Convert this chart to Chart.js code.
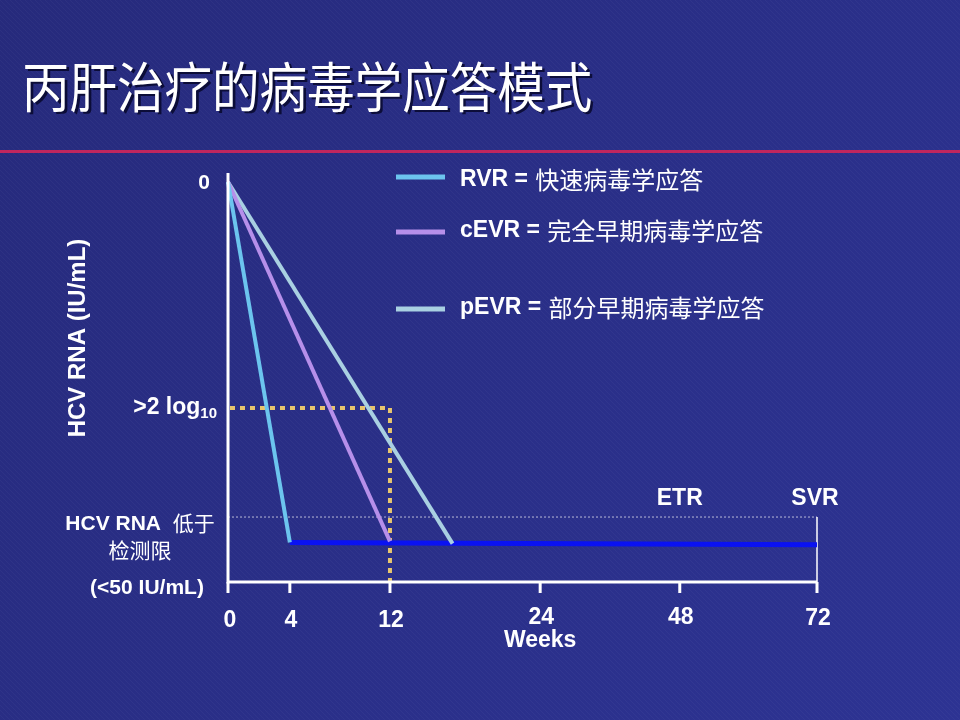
<!DOCTYPE html>
<html>
<head>
<meta charset="utf-8">
<script src="https://cdn.jsdelivr.net/npm/chart.js@4.4.0/dist/chart.umd.min.js"></script>
<style>
  html, body { margin: 0; padding: 0; background: #282d84; }
  #wrap { width: 960px; height: 720px; position: relative; }
</style>
</head>
<body>
<div id="wrap"><canvas id="hcvChart"></canvas></div>
<script>
// weeks shown on the x axis (the axis is not linear in weeks)
const WEEK_TICKS = [0, 4, 12, 24, 48, 72];
const WEEK_LABELS = ['0', '4', '12', '24', '48', '72'];
// where each week tick sits along the axis, 0..100
const AXIS_POS = [0, 10.5, 27.5, 53, 76.7, 100];

// log10 decline of HCV RNA from baseline
const rvrWeeks = [0, 4];
const rvrDecline = [0, 3.19];
const cevrWeeks = [0, 12];
const cevrDecline = [0, 3.18];
const pevrWeeks = [0, 17];
const pevrDecline = [0, 3.2];
const undetWeeks = [4, 72];
const undetDecline = [3.19, 3.21];

const TWO_LOG = 2;          // >2 log10 drop
const DETECT_LIMIT = 2.965; // below detection limit
const Y_MAX = 3.54;

const legendNames = ['RVR', 'cEVR', 'pEVR'];
const legendTexts = ['快速病毒学应答', '完全早期病毒学应答', '部分早期病毒学应答'];

const LATIN = '"Liberation Sans", Arial, "Noto Sans CJK SC", sans-serif';
const CJK = '"Noto Sans CJK SC", "Liberation Sans", sans-serif';

// Map a week value onto the piecewise axis
function weekToAxis(w) {
    for (let i = 1; i < WEEK_TICKS.length; i++) {
        if (w <= WEEK_TICKS[i]) {
            const t = (w - WEEK_TICKS[i - 1]) / (WEEK_TICKS[i] - WEEK_TICKS[i - 1]);
            return AXIS_POS[i - 1] + t * (AXIS_POS[i] - AXIS_POS[i - 1]);
        }
    }
    return AXIS_POS[AXIS_POS.length - 1];
}

function toPoints(weeks, values) {
    return weeks.map((w, i) => ({ x: weekToAxis(w), y: values[i] }));
}

// Background, title and red rule
const backgroundPlugin = {
    id: 'slideBackground',
    beforeDraw(chart) {
        const ctx = chart.ctx;
        const w = chart.width, h = chart.height;
        ctx.save();
        const g = ctx.createLinearGradient(0, 0, w, h);
        g.addColorStop(0, '#262a7c');
        g.addColorStop(1, '#2d3393');
        ctx.fillStyle = g;
        ctx.fillRect(0, 0, w, h);

        // faint diagonal texture
        ctx.strokeStyle = 'rgba(255,255,255,0.035)';
        ctx.lineWidth = 1;
        for (let x = -h; x < w; x += 5) {
            ctx.beginPath();
            ctx.moveTo(x, 0);
            ctx.lineTo(x + h, h);
            ctx.stroke();
        }

        // title, a little condensed
        const title = '丙肝治疗的病毒学应答模式';
        ctx.font = '400 54px ' + CJK;
        ctx.textBaseline = 'middle';
        ctx.textAlign = 'left';
        ctx.save();
        ctx.translate(22, 87);
        ctx.scale(0.88, 1);
        ctx.fillStyle = 'rgba(0,0,25,0.7)';
        ctx.fillText(title, 3, 2);
        ctx.fillStyle = '#ffffff';
        ctx.fillText(title, 0, 0);
        ctx.restore();

        // red rule under the title
        ctx.fillStyle = '#c0265e';
        ctx.fillRect(0, 150, w, 3);
        ctx.restore();
    }
};

// Reference lines behind the curves
const guidesPlugin = {
    id: 'guides',
    beforeDatasetsDraw(chart) {
        const ctx = chart.ctx;
        const xs = chart.scales.x, ys = chart.scales.y;
        const x0 = xs.getPixelForValue(0);
        const x12 = xs.getPixelForValue(weekToAxis(12));
        const x72 = xs.getPixelForValue(weekToAxis(72));
        const yTwo = ys.getPixelForValue(TWO_LOG);
        const yDet = ys.getPixelForValue(DETECT_LIMIT);
        const yBot = ys.getPixelForValue(Y_MAX);
        ctx.save();

        // detection limit dotted line
        ctx.strokeStyle = 'rgba(220,220,235,0.8)';
        ctx.lineWidth = 1;
        ctx.setLineDash([2, 2]);
        ctx.beginPath();
        ctx.moveTo(x0, yDet);
        ctx.lineTo(x72, yDet);
        ctx.stroke();

        // SVR marker line
        ctx.setLineDash([]);
        ctx.strokeStyle = '#ffffff';
        ctx.lineWidth = 1.5;
        ctx.beginPath();
        ctx.moveTo(x72, yDet);
        ctx.lineTo(x72, yBot);
        ctx.stroke();

        // yellow dotted >2 log at week 12
        ctx.strokeStyle = '#e7c56e';
        ctx.lineWidth = 4;
        ctx.setLineDash([5, 5]);
        ctx.beginPath();
        ctx.moveTo(x0 + 2, yTwo);
        ctx.lineTo(x12, yTwo);
        ctx.lineTo(x12, yBot);
        ctx.stroke();
        ctx.restore();
    }
};

// Axes, tick labels, legend and annotations
const axesPlugin = {
    id: 'axesAndText',
    afterDraw(chart) {
        const ctx = chart.ctx;
        const xs = chart.scales.x, ys = chart.scales.y;
        const area = chart.chartArea;
        const x0 = xs.getPixelForValue(0);
        const yBot = ys.getPixelForValue(Y_MAX);
        ctx.save();

        // axis lines
        ctx.strokeStyle = '#ffffff';
        ctx.lineWidth = 3;
        ctx.beginPath();
        ctx.moveTo(x0, area.top - 9);
        ctx.lineTo(x0, yBot);
        ctx.lineTo(xs.getPixelForValue(100), yBot);
        ctx.stroke();

        // x ticks and labels
        ctx.fillStyle = '#ffffff';
        ctx.font = 'bold 23px ' + LATIN;
        ctx.textAlign = 'center';
        ctx.textBaseline = 'middle';
        const labelY = [621, 621, 621, 618, 618, 619];
        WEEK_TICKS.forEach((wk, i) => {
            const px = xs.getPixelForValue(weekToAxis(wk));
            ctx.beginPath();
            ctx.moveTo(px, yBot);
            ctx.lineTo(px, yBot + 11);
            ctx.stroke();
            ctx.fillText(WEEK_LABELS[i], px + (i === 0 ? 2 : 1), labelY[i]);
        });
        ctx.fillText('Weeks', xs.getPixelForValue(weekToAxis(24)), 641);

        // y labels
        ctx.font = 'bold 21px ' + LATIN;
        ctx.textAlign = 'center';
        ctx.fillText('0', x0 - 24, ys.getPixelForValue(0) + 1);
        const yTwo = ys.getPixelForValue(TWO_LOG);
        ctx.textAlign = 'right';
        ctx.font = 'bold 15px ' + LATIN;
        const subW = ctx.measureText('10').width;
        ctx.fillText('10', x0 - 11, yTwo + 6);
        ctx.font = 'bold 23px ' + LATIN;
        ctx.fillText('>2 log', x0 - 11 - subW, yTwo);

        ctx.font = 'bold 21px ' + LATIN;
        const hcvW = ctx.measureText('HCV RNA  ').width;
        ctx.font = '21px ' + CJK;
        const cjkW = ctx.measureText('低于').width;
        const startX = 140 - (hcvW + cjkW) / 2;
        ctx.textAlign = 'left';
        ctx.font = 'bold 21px ' + LATIN;
        ctx.fillText('HCV RNA  ', startX, 524);
        ctx.font = '21px ' + CJK;
        ctx.fillText('低于', startX + hcvW, 523);
        ctx.textAlign = 'center';
        ctx.fillText('检测限', 140, 550);
        ctx.font = 'bold 21px ' + LATIN;
        ctx.fillText('(<50 IU/mL)', 147, 588);

        // y axis title
        ctx.save();
        ctx.translate(78, 338);
        ctx.rotate(-Math.PI / 2);
        ctx.font = 'bold 24px ' + LATIN;
        ctx.fillText('HCV RNA (IU/mL)', 0, 0);
        ctx.restore();

        // ETR / SVR
        ctx.font = 'bold 23px ' + LATIN;
        ctx.fillText('ETR', xs.getPixelForValue(weekToAxis(48)), 499);
        ctx.fillText('SVR', xs.getPixelForValue(weekToAxis(72)) - 2, 499);

        // legend
        const legendY = [177, 232, 309];
        const textY = [180, 231, 308];
        legendNames.forEach((name, i) => {
            const ds = chart.data.datasets[i];
            ctx.strokeStyle = ds.borderColor;
            ctx.lineWidth = 5;
            ctx.beginPath();
            ctx.moveTo(396, legendY[i]);
            ctx.lineTo(445, legendY[i]);
            ctx.stroke();
            ctx.textAlign = 'left';
            ctx.font = 'bold 23px ' + LATIN;
            const head = name + ' = ';
            ctx.fillText(head, 460, textY[i]);
            const hw = ctx.measureText(head).width;
            ctx.font = '24px ' + CJK;
            ctx.fillText(legendTexts[i], 461 + hw, textY[i]);
        });
        ctx.restore();
    }
};

const canvas = document.getElementById('hcvChart');
const ctx = canvas.getContext('2d');

new Chart(ctx, {
    type: 'line',
    data: {
        datasets: [
            {
                label: 'RVR',
                data: toPoints(rvrWeeks, rvrDecline),
                borderColor: '#6cc4ee',
                borderWidth: 4
            },
            {
                label: 'cEVR',
                data: toPoints(cevrWeeks, cevrDecline),
                borderColor: '#b68fea',
                borderWidth: 4
            },
            {
                label: 'pEVR',
                data: toPoints(pevrWeeks, pevrDecline),
                borderColor: '#a9d0e2',
                borderWidth: 4
            },
            {
                label: 'Undetectable',
                data: toPoints(undetWeeks, undetDecline),
                borderColor: '#0a12f2',
                borderWidth: 5
            }
        ]
    },
    options: {
        responsive: true,
        maintainAspectRatio: false,
        animation: false,
        events: [],
        layout: {
            padding: { left: 228, right: 143, top: 182, bottom: 138 }
        },
        elements: {
            point: { radius: 0 },
            line: { tension: 0, borderCapStyle: 'butt' }
        },
        datasets: {
            line: { clip: false }
        },
        plugins: {
            legend: { display: false },
            tooltip: { enabled: false },
            title: { display: false }
        },
        scales: {
            x: { type: 'linear', min: 0, max: 100, display: false },
            y: { type: 'linear', min: 0, max: Y_MAX, reverse: true, display: false }
        }
    },
    plugins: [backgroundPlugin, guidesPlugin, axesPlugin]
});
</script>
</body>
</html>
